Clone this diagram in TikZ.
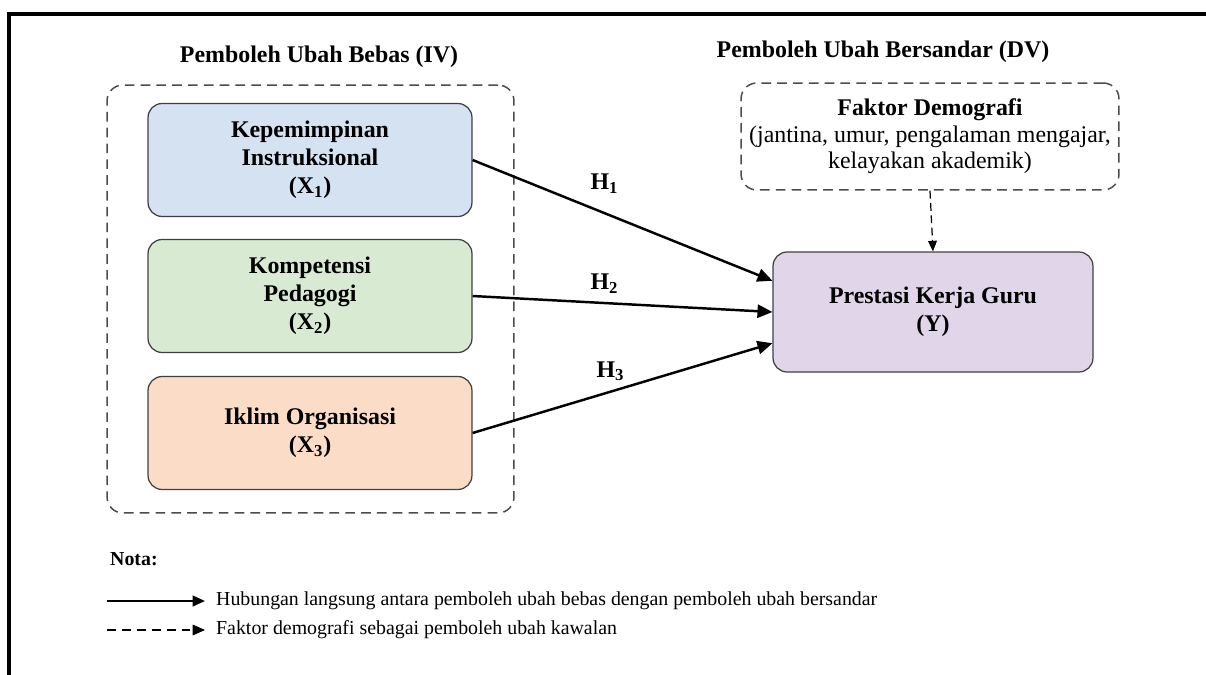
\documentclass[tikz,border=0pt]{standalone}
\usepackage{fontspec}
\setmainfont{Liberation Serif}
\usetikzlibrary{arrows.meta,calc}
\definecolor{ivblue}{HTML}{D5E2F2}
\definecolor{ivgreen}{HTML}{D9EAD3}
\definecolor{ivpeach}{HTML}{FBDDC7}
\definecolor{dvlilac}{HTML}{E1D6E9}

\begin{document}
\begin{tikzpicture}[x=0.02cm, y=-0.02cm,
    var/.style={draw=black!75, line width=0.7pt, rounded corners=8pt, minimum width=6.48cm, minimum height=2.26cm, align=center, inner sep=2pt, font=\fontsize{13.6}{15.9}\selectfont\bfseries},
    grp/.style={draw=black!70, line width=0.85pt, dash pattern=on 5.5pt off 3.5pt, rounded corners=9pt, align=center},
    head/.style={font=\fontsize{13.6}{15.7}\selectfont\bfseries},
    hyp/.style={-{Triangle[length=8.5pt,width=7.5pt]}, line width=1.4pt},
    hlab/.style={inner sep=1pt, font=\fontsize{13.6}{15.7}\selectfont\bfseries},
    ctrl/.style={-{Triangle[length=6pt,width=5pt]}, line width=0.7pt, dash pattern=on 4.5pt off 2.5pt},
    nota/.style={anchor=west, font=\fontsize{11.3}{13}\selectfont}]

    \useasboundingbox (0,0) rectangle (1206,675);
    \draw[line width=1.8pt] (1206,14) -- (9,14) -- (9,675);

    \node[head] (tiv) at (319,57) {Pemboleh Ubah Bebas (IV)};
    \node[head] (tdv) at (883,52) {Pemboleh Ubah Bersandar (DV)};

    \node[grp, minimum width=8.14cm, minimum height=8.56cm] (iv) at (310.5,299) {};
    \node[var, fill=ivblue] (x1) at (310,160) {Kepemimpinan\\Instruksional\\(X\textsubscript{1})};
    \node[var, fill=ivgreen] (x2) at (310,296) {Kompetensi\\Pedagogi\\(X\textsubscript{2})};
    \node[var, fill=ivpeach] (x3) at (310,433) {Iklim Organisasi\\(X\textsubscript{3})};

    \node[grp, minimum width=7.56cm, minimum height=2.14cm, font=\fontsize{13.6}{15.1}\selectfont] (demo) at (930,136.5)
        {\textbf{Faktor Demografi}\\(jantina, umur, pengalaman mengajar,\\kelayakan akademik)};
    \node[var, fill=dvlilac, minimum width=6.4cm, minimum height=2.4cm] (y) at (933,312) {Prestasi Kerja Guru\\(Y)};

    \draw[hyp] (x1.east) -- node[hlab, pos=.44, above=9.5pt] {H\textsubscript{1}} (y.169);
    \draw[hyp] (x2.east) -- node[hlab, pos=.44, above=3.7pt] {H\textsubscript{2}} (y.west);
    \draw[hyp] (x3.east) -- node[hlab, pos=.46, above=4.3pt] {H\textsubscript{3}} (y.191);
    \draw[ctrl] (demo.south) -- (y.north);

    \node[nota, font=\fontsize{11.3}{13}\selectfont\bfseries] (nt) at (104,559) {Nota:};
    \coordinate (la) at (107,601);
    \coordinate (lb) at (205,601);
    \coordinate (lc) at (107,630);
    \coordinate (ld) at (205,630);
    \draw[-{Triangle[length=7pt,width=6pt]}, line width=1.3pt] (la) -- (lb);
    \draw[-{Triangle[length=7pt,width=6pt]}, line width=0.8pt, dash pattern=on 5pt off 3.5pt] (lc) -- (ld);
    \node[nota] (n1) at (210,601) {Hubungan langsung antara pemboleh ubah bebas dengan pemboleh ubah bersandar};
    \node[nota] (n2) at (210,630) {Faktor demografi sebagai pemboleh ubah kawalan};

\end{tikzpicture}
\end{document}
